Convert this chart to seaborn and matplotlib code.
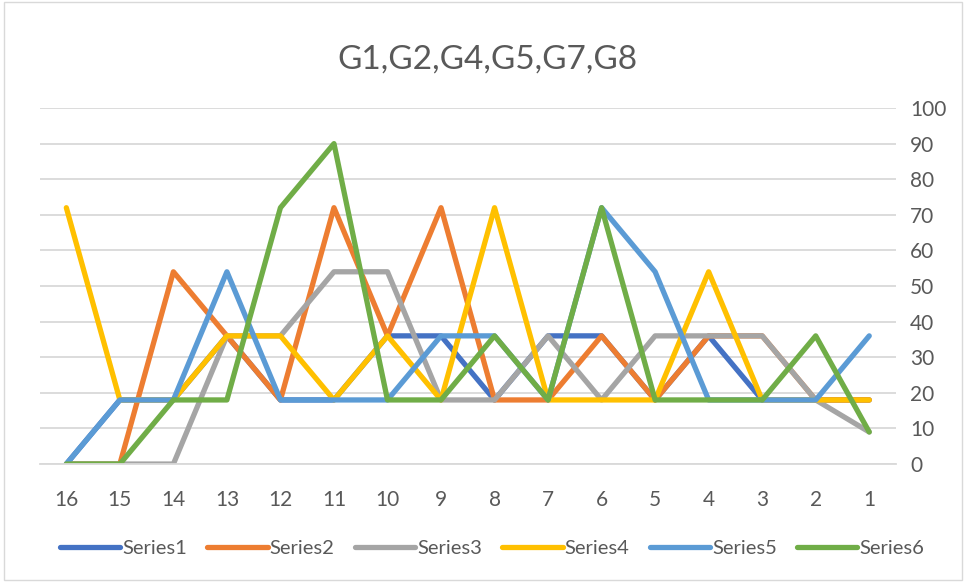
import pandas as pd
import matplotlib.pyplot as plt
import seaborn as sns
from matplotlib.patches import Rectangle

# categories (reversed order on x axis)
labels = ["16", "15", "14", "13", "12", "11", "10", "9", "8", "7", "6", "5", "4", "3", "2", "1"]

series1 = [0, 18, 18, 36, 18, 18, 36, 36, 18, 36, 36, 18, 36, 18, 18, 18]
series2 = [0, 0, 54, 36, 18, 72, 36, 72, 18, 18, 36, 18, 36, 36, 18, 18]
series3 = [0, 0, 0, 36, 36, 54, 54, 18, 18, 36, 18, 36, 36, 36, 18, 9]
series4 = [72, 18, 18, 36, 36, 18, 36, 18, 72, 18, 18, 18, 54, 18, 18, 18]
series5 = [0, 18, 18, 54, 18, 18, 18, 36, 36, 18, 72, 54, 18, 18, 18, 36]
series6 = [0, 0, 18, 18, 72, 90, 18, 18, 36, 18, 72, 18, 18, 18, 36, 9]

names = ["Series1", "Series2", "Series3", "Series4", "Series5", "Series6"]
colors = ["#4472c4", "#ed7d31", "#a5a5a5", "#ffc000", "#5b9bd5", "#70ad47"]

rows = []
for name, vals in zip(names, [series1, series2, series3, series4, series5, series6]):
    for i, v in enumerate(vals):
        rows.append({"pos": i, "value": v, "series": name})
df = pd.DataFrame(rows)

sns.set_style("white")
plt.rcParams['font.family'] = ['Lato', 'DejaVu Sans']

fig = plt.figure(figsize=(9.65, 5.82), dpi=100)
ax = fig.add_axes([0.041, 0.2027, 0.8875, 0.6117])

sns.lineplot(data=df, x="pos", y="value", hue="series", palette=colors,
             linewidth=3.8, ax=ax, legend=True, solid_capstyle="round")

ax.set_xlim(-0.5, 15.5)
ax.set_ylim(0, 100)
ax.set_yticks(range(0, 101, 10))
ax.yaxis.tick_right()
ax.set_xticks(range(16))
ax.set_xticklabels(labels)
ax.set_xticks([i - 0.5 for i in range(17)], minor=True)
ax.tick_params(axis="x", which="major", length=0, pad=19, labelsize=15, labelcolor="#595959")
ax.tick_params(axis="x", which="minor", length=6, color="#d9d9d9", width=1.3)
ax.tick_params(axis="y", length=0, pad=10, labelsize=15, labelcolor="#595959")
ax.grid(axis="y", color="#d9d9d9", linewidth=1.3)
ax.set_axisbelow(True)
for s in ["top", "left", "right"]:
    ax.spines[s].set_visible(False)
ax.spines["bottom"].set_color("#d9d9d9")
ax.spines["bottom"].set_linewidth(1.3)
ax.set_xlabel("")
ax.set_ylabel("")

fig.text(0.505, 0.897, "G1,G2,G4,G5,G7,G8", ha="center", va="center",
         fontsize=24, color="#595959")

handles, lbls = ax.get_legend_handles_labels()
ax.get_legend().remove()
fig.legend(handles, lbls, loc="center", bbox_to_anchor=(0.51, 0.057), ncol=6,
           frameon=False, fontsize=14.5, labelcolor="#595959", handlelength=3.0,
           handletextpad=0.1, columnspacing=1.0)

fig.patches.append(Rectangle((0.004, 0.004), 0.993, 0.993, transform=fig.transFigure,
                             fill=False, edgecolor="#d9d9d9", linewidth=1))

fig.savefig("out.png", dpi=100)
